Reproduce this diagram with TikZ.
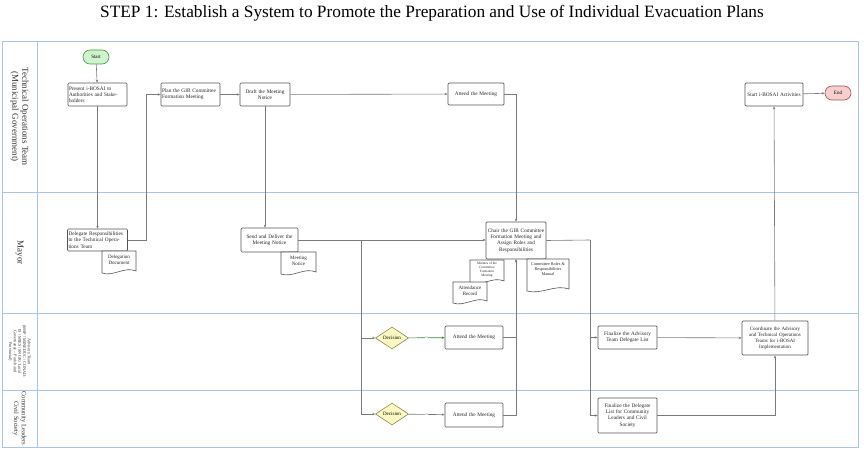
\documentclass[tikz,border=0pt]{standalone}
\usepackage{fontspec}
\setmainfont{Liberation Serif}
\usetikzlibrary{shapes.geometric,arrows.meta}
\definecolor{lanec}{HTML}{A9C4EB}
\definecolor{boxc}{HTML}{555555}
\definecolor{connc}{HTML}{7A7A7A}
\definecolor{startf}{HTML}{CCF5CC}
\definecolor{startd}{HTML}{4E8F4E}
\definecolor{endf}{HTML}{F8CDCD}
\definecolor{endd}{HTML}{A05555}
\definecolor{decf}{HTML}{FCF8C2}
\definecolor{decd}{HTML}{8C8A55}
\definecolor{greenc}{HTML}{3A8A3A}
\tikzset{
  stepbox/.style={draw=boxc, line width=0.7pt, fill=white, rounded corners=1pt, inner sep=1pt, font=\fontsize{5.3}{6.2}\selectfont, align=center, text=black!85},
  termbox/.style={draw, line width=0.6pt, rounded corners=7pt, minimum width=26pt, minimum height=14pt, inner sep=0pt, font=\fontsize{5}{6}\selectfont},
  decbox/.style={diamond, draw=decd, fill=decf, line width=0.6pt, minimum width=33pt, minimum height=22pt, inner sep=0pt, aspect=1.5, font=\fontsize{5}{6}\selectfont},
  conn/.style={draw=connc, line width=0.6pt, -{Stealth[length=3pt,width=2.4pt]}},
  greenconn/.style={draw=greenc, line width=0.7pt, -{Stealth[length=3pt,width=2.4pt]}},
  lbl/.style={font=\fontsize{3}{3}\selectfont, fill=white, inner sep=0.3pt, text=connc},
  lanelabel/.style={rotate=-90, align=center, font=\fontsize{9}{10}\selectfont, text=black!80},
  doctext/.style={align=center, inner sep=0pt, text=black!85}
}
\newcommand{\docshape}[4]{%
  \draw[draw=boxc, line width=0.6pt, fill=white] (#1,#2) -- (#3,#2) -- (#3,#4-2) .. controls ({#3-(#3-#1)/3},{#4-7}) and ({#1+(#3-#1)/3},{#4+4}) .. (#1,#4) -- cycle;
}
\begin{document}
\begin{tikzpicture}[x=1pt,y=-1pt]
\useasboundingbox (0,0) rectangle (864,476);
\fill[white] (0,0) rectangle (864,476);
% title
\node[font=\fontsize{17.3}{19}\selectfont] (title) at (432,13) {STEP 1: Establish a System to Promote the Preparation and Use of Individual Evacuation Plans};
% pool
\draw[lanec, line width=0.7pt] (2,41) rectangle (858,447);
\draw[lanec, line width=0.7pt] (37,41) -- (37,447);
\draw[lanec, line width=0.7pt] (2,192) -- (858,192);
\draw[lanec, line width=0.7pt] (2,313) -- (858,313);
\draw[lanec, line width=0.7pt] (2,390) -- (858,390);
\node[lanelabel] (l1) at (19.5,116.5) {Technical Operations Team\\(Municipal Government)};
\node[lanelabel] (l2) at (19.5,252.5) {Mayor};
\node[lanelabel, font=\fontsize{4.2}{4.7}\selectfont] (l3) at (19.5,351.5) {Advisory Team\\(MSP / MINEDUC / CONAD-\\IS / MIES / SNGR / Local\\Governance -- Parish and\\Provincial)};
\node[lanelabel, font=\fontsize{6.6}{7.8}\selectfont] (l4) at (19.5,418.5) {Community Leaders\\Civil Society};
% lane 1
\node[termbox, draw=startd, fill=startf] (start) at (96,57) {Start};
\node[stepbox, minimum width=59pt, minimum height=23pt, text width=57pt, align=left] (present) at (97.5,94.5) {Present i-BOSAI to\\Authorities and Stake-\\holders};
\node[stepbox, minimum width=59pt, minimum height=23pt, text width=57pt, align=left] (plan) at (190.5,94.5) {Plan the GIR Committee\\Formation Meeting};
\node[stepbox, minimum width=50pt, minimum height=23pt, text width=48pt] (draft) at (265,94.5) {Draft the Meeting\\Notice};
\node[stepbox, minimum width=56pt, minimum height=22pt, text width=54pt] (attend0) at (476,94) {Attend the Meeting};
\node[stepbox, minimum width=58pt, minimum height=23pt, text width=56pt] (starti) at (774,94.5) {Start i-BOSAI Activities};
\node[termbox, draw=endd, fill=endf] (endn) at (838,93) {End};
% lane 2
\node[stepbox, minimum width=59pt, minimum height=22pt, text width=58pt, align=left] (delegate) at (97.5,240) {Delegate Responsibilities\\to the Technical Opera-\\tions Team};
\node[stepbox, minimum width=57pt, minimum height=24pt, text width=55pt] (send) at (269.5,240) {Send and Deliver the\\Meeting Notice};
\node[stepbox, minimum width=58pt, minimum height=37pt, text width=58pt] (chair) at (516,240.5) {Chair the GIR Committee\\Formation Meeting and\\Assign Roles and\\Responsibilities};
% documents
\docshape{102}{251}{136}{273}
\node[doctext, font=\fontsize{5}{5.8}\selectfont] (ddoc) at (119,259.5) {Delegation\\Document};
\docshape{281}{252}{316}{274}
\node[doctext, font=\fontsize{5}{5.8}\selectfont] (mnot) at (298.5,260.5) {Meeting\\Notice};
\docshape{470}{260}{504}{283}
\node[doctext, font=\fontsize{3.4}{4}\selectfont] (mins) at (487,269.5) {Minutes of the\\Committee\\Formation\\Meeting};
\docshape{453}{282}{487}{303}
\node[doctext, font=\fontsize{5}{5.8}\selectfont] (attrec) at (470,290.5) {Attendance\\Record};
\docshape{527}{259}{569}{291}
\node[doctext, font=\fontsize{4.2}{5}\selectfont] (manual) at (548,269) {Committee Roles \&\\Responsibilities\\Manual};
% lane 3
\node[decbox] (dec1) at (392,338) {Decision};
\node[stepbox, minimum width=58pt, minimum height=23pt, text width=56pt] (att1) at (474,337.5) {Attend the Meeting};
\node[stepbox, minimum width=59pt, minimum height=23pt, text width=57pt] (fin1) at (627.5,337.5) {Finalize the Advisory\\Team Delegate List};
\node[stepbox, minimum width=66pt, minimum height=34pt, text width=64pt, font=\fontsize{5}{6}\selectfont] (coord) at (775,338) {Coordinate the Advisory\\and Technical Operations\\Teams for i-BOSAI\\Implementation};
% lane 4
\node[decbox] (dec2) at (392,414) {Decision};
\node[stepbox, minimum width=58pt, minimum height=24pt, text width=56pt] (att2) at (474,415) {Attend the Meeting};
\node[stepbox, minimum width=59pt, minimum height=35pt, text width=57pt] (fin2) at (627.5,415.5) {Finalize the Delegate\\List for Community\\Leaders and Civil\\Society};
% connectors
\draw[conn] (start) -- (present);
\draw[conn] (present) -- (delegate);
\draw[conn] (delegate.east) -- ++(18,0) |- (plan.west);
\draw[conn] (plan) -- (draft);
\draw[conn] (draft) -- (attend0);
\draw[conn] (draft.south) -- (draft.south |- send.north);
\draw[conn] (send.east) -- (send.east -| chair.west);
\coordinate (br) at (361,240);
\draw[conn] (br) |- (dec1.west);
\draw[conn] (br) |- (dec2.west);
\draw[conn] (attend0.east) -| (chair.north);
\draw[conn] (att1.east) -| (chair.south);
\draw[conn] (att2.east) -| (chair.south);
\coordinate (cr) at (590,240);
\draw[connc, line width=0.6pt] (chair.east) -- (cr);
\draw[conn] (cr) |- (fin1.west);
\draw[conn] (cr) |- (fin2.west);
\draw[conn] (fin1) -- (coord);
\draw[conn] (fin2.east) -| (coord.south);
\draw[conn] (coord) -- (starti);
\draw[conn] (starti) -- (endn);
\draw[greenconn] (dec1) -- node[lbl] {Sí} (att1);
\draw[conn] (dec2) -- node[lbl] {Sí} (att2);
\end{tikzpicture}
\end{document}
